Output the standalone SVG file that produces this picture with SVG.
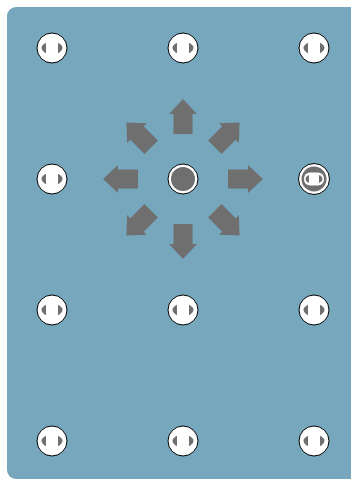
<svg xmlns="http://www.w3.org/2000/svg" xmlns:xlink="http://www.w3.org/1999/xlink" width="351" height="479" viewBox="0 0 351 479">
  <style>
    .bg { fill: #76a7bd; }
    .ring { fill: #ffffff; stroke: #000000; stroke-width: 1; }
    .gray { fill: #6f6f6f; }
    .white { fill: #ffffff; }
    .arrow { fill: #6f6f6f; }
  </style>
  <defs>
    <g id="pin">
      <circle class="ring" cx="0" cy="0" r="15"/>
      <ellipse class="gray" cx="0" cy="0" rx="10.5" ry="6.5"/>
      <rect class="white" x="-6" y="-7" width="12" height="14"/>
    </g>
    <path id="arr" class="arrow" d="M0,-80 L14,-65 L9.5,-65 L9.5,-45 L-9.5,-45 L-9.5,-65 L-14,-65 Z"/>
  </defs>
  <rect class="bg" x="7" y="7" width="352" height="472" rx="9" ry="9"/>
  <g id="connectors">
    <g transform="translate(183,179)">
      <use xlink:href="#arr"/>
      <use xlink:href="#arr" transform="rotate(45)"/>
      <use xlink:href="#arr" transform="rotate(90)"/>
      <use xlink:href="#arr" transform="rotate(135)"/>
      <use xlink:href="#arr" transform="rotate(180)"/>
      <use xlink:href="#arr" transform="rotate(225)"/>
      <use xlink:href="#arr" transform="rotate(270)"/>
      <use xlink:href="#arr" transform="rotate(315)"/>
    </g>
  </g>
  <g id="n11" transform="translate(52,48)"><use xlink:href="#pin"/></g>
  <g id="n12" transform="translate(183,48)"><use xlink:href="#pin"/></g>
  <g id="n13" transform="translate(314,48)"><use xlink:href="#pin"/></g>
  <g id="n21" transform="translate(52,179)"><use xlink:href="#pin"/></g>
  <g id="center" transform="translate(183,179)">
    <circle class="ring" cx="0" cy="0" r="15"/>
    <circle class="gray" cx="0" cy="0" r="12"/>
  </g>
  <g id="n23" transform="translate(314,179)">
    <circle class="ring" cx="0" cy="0" r="15.5"/>
    <circle class="gray" cx="0" cy="0" r="12.5"/>
    <rect class="white" x="-10" y="-6.5" width="20" height="13" rx="6" ry="6"/>
    <ellipse class="gray" cx="0" cy="0" rx="8.5" ry="5"/>
    <rect class="white" x="-5" y="-6" width="10" height="12"/>
  </g>
  <g id="n31" transform="translate(52,310)"><use xlink:href="#pin"/></g>
  <g id="n32" transform="translate(183,310)"><use xlink:href="#pin"/></g>
  <g id="n33" transform="translate(314,310)"><use xlink:href="#pin"/></g>
  <g id="n41" transform="translate(52,441)"><use xlink:href="#pin"/></g>
  <g id="n42" transform="translate(183,441)"><use xlink:href="#pin"/></g>
  <g id="n43" transform="translate(314,441)"><use xlink:href="#pin"/></g>
</svg>
